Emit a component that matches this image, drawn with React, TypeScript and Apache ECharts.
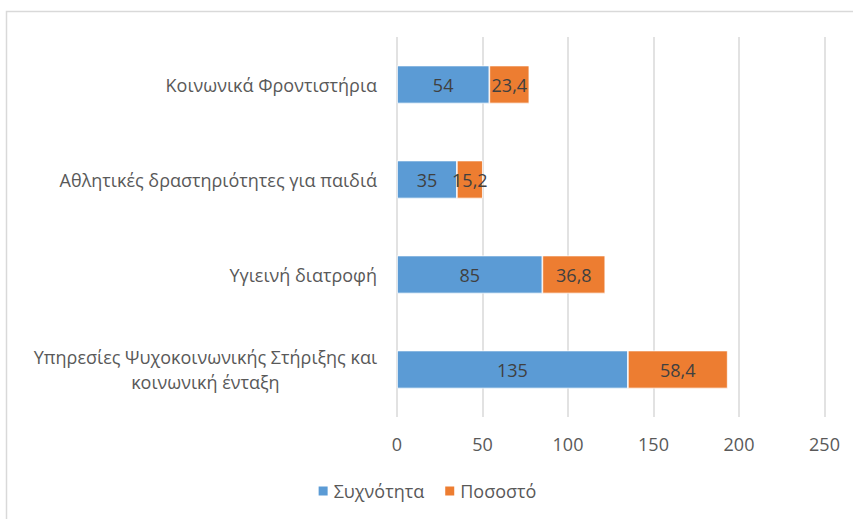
import React, { useEffect, useRef } from "react";
import * as echarts from "echarts";

const categories = [
  "Υπηρεσίες Ψυχοκοινωνικής Στήριξης και\nκοινωνική ένταξη",
  "Υγιεινή διατροφή",
  "Αθλητικές δραστηριότητες για παιδιά",
  "Κοινωνικά Φροντιστήρια",
];
const frequency = [135, 85, 35, 54];
const percentage = [58.4, 36.8, 15.2, 23.4];
const seriesNames = ["Συχνότητα", "Ποσοστό"];

const FONT = "'Open Sans', 'Noto Sans', sans-serif";

export default function App() {
  const ref = useRef<HTMLDivElement>(null);
  useEffect(() => {
    if (!ref.current) return;
    const chart = echarts.init(ref.current, undefined, { renderer: "svg" });
    const labelFmt = (p: any) => String(p.value).replace(".", ",");
    chart.setOption({
      animation: false,
      textStyle: { fontFamily: FONT },
      graphic: [
        {
          type: "rect",
          shape: { x: 6.5, y: 11.5, width: 900, height: 600 },
          style: { fill: "none", stroke: "#d9d9d9", lineWidth: 1.5 },
          silent: true,
        },
      ],
      grid: { left: 397, right: 28.5, top: 37, bottom: 102, containLabel: false },
      xAxis: {
        type: "value",
        min: 0,
        max: 250,
        interval: 50,
        axisLine: { show: false },
        axisTick: { show: false },
        splitLine: { show: true, lineStyle: { color: "#d9d9d9", width: 1.5 } },
        axisLabel: { color: "#595959", fontSize: 18, margin: 18, fontFamily: FONT },
      },
      yAxis: {
        type: "category",
        data: categories,
        axisLine: { show: false },
        axisTick: { show: false },
        axisLabel: {
          color: "#595959",
          fontSize: 18,
          margin: 20,
          lineHeight: 25,
          align: "right",
          fontFamily: FONT,
          formatter: (v: string) =>
            v
              .split("\n")
              .map((s) => "{c|" + s + "}")
              .join("\n"),
          rich: {
            c: {
              align: "center",
              color: "#595959",
              fontSize: 18,
              lineHeight: 25,
              fontFamily: FONT,
            },
          },
        },
      },
      legend: {
        data: seriesNames,
        bottom: 14,
        left: "center",
        itemWidth: 11,
        itemHeight: 11,
        itemGap: 19,
        icon: "rect",
        textStyle: { color: "#595959", fontSize: 18, fontFamily: FONT },
      },
      series: [
        {
          name: seriesNames[0],
          type: "bar",
          stack: "total",
          data: frequency,
          barWidth: 38,
          itemStyle: { color: "#5B9BD5", borderColor: "#fff", borderWidth: 0.75 },
          label: {
            show: true,
            position: "inside",
            color: "#404040",
            fontSize: 18,
            fontFamily: FONT,
            formatter: labelFmt,
          },
        },
        {
          name: seriesNames[1],
          type: "bar",
          stack: "total",
          data: percentage,
          barWidth: 38,
          itemStyle: { color: "#ED7D31", borderColor: "#fff", borderWidth: 0.75 },
          label: {
            show: true,
            position: "inside",
            color: "#404040",
            fontSize: 18,
            fontFamily: FONT,
            formatter: labelFmt,
          },
        },
      ],
    });
    return () => chart.dispose();
  }, []);
  return (
    <div
      ref={ref}
      style={{ position: "fixed", left: 0, top: 0, width: 853, height: 519, background: "#fff" }}
    />
  );
}
